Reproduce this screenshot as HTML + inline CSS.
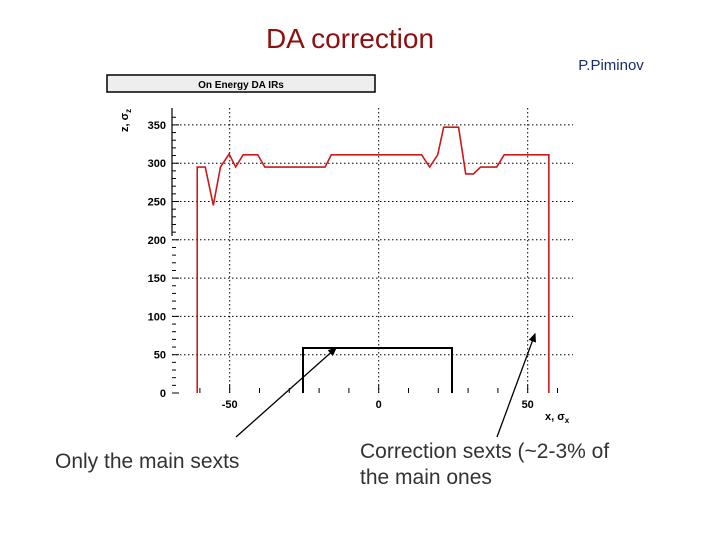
<!DOCTYPE html>
<html><head><meta charset="utf-8"><style>
body{margin:0;background:#fff;width:720px;height:540px;overflow:hidden;font-family:"Liberation Sans",sans-serif}
</style></head><body>
<svg width="720" height="540" viewBox="0 0 720 540">
<text x="350" y="48" font-size="28" fill="#8b1010" text-anchor="middle">DA correction</text>
<text x="611" y="70" font-size="15" fill="#1a2a6a" text-anchor="middle">P.Piminov</text>
<rect x="107" y="75" width="268" height="17" fill="#eee" stroke="#000" stroke-width="1.5"/>
<text x="241" y="88" font-size="10" font-weight="bold" text-anchor="middle">On Energy DA IRs</text>
<text transform="translate(128,132) rotate(-90)" font-size="11" font-weight="bold">z, σ<tspan font-size="8" dy="3">z</tspan></text>
<text x="545" y="420" font-size="11" font-weight="bold">x, σ<tspan font-size="8" dy="3">x</tspan></text>
<g id="grid"></g><g id="axes"></g><g id="series"></g>
<path d="M303,393V348H452V393" fill="none" stroke="#000" stroke-width="2"/>
<defs><marker id="ah" markerWidth="8" markerHeight="8" refX="6" refY="3" orient="auto"><path d="M0,0L7,3L0,6z" fill="#000"/></marker></defs>
<line x1="236" y1="437" x2="336" y2="348" stroke="#000" stroke-width="1.3" marker-end="url(#ah)"/>
<line x1="497" y1="437" x2="535" y2="334" stroke="#000" stroke-width="1.3" marker-end="url(#ah)"/>
<text x="55" y="468" font-size="21" fill="#333">Only the main sexts</text>
<text x="360" y="458" font-size="21" fill="#333">Correction sexts (~2-3% of</text>
<text x="360" y="484" font-size="21" fill="#333">the main ones</text>
</svg>
<script>
const xs=[-60.9,-60.9,-58.2,-55.5,-53.1,-50.2,-48,-45.5,-40.6,-38.2,-18,-15.9,14.4,17.1,19.8,21.8,26.8,29.2,31.8,34.2,39.6,42.1,57.1,57.1];
const ys=[0,295,295,245,295,312,295,311,311,295,295,311,311,295,311,347,347,286,286,295,295,311,311,0];
const yTicks=[0,50,100,150,200,250,300,350];
const xTicks=[-50,0,50];
const NS='http://www.w3.org/2000/svg';
const X=v=>378.7+v*2.98, Y=v=>393-v*0.766;
function mk(t,p,a){const e=document.createElementNS(NS,t);for(const k in a)e.setAttribute(k,a[k]);p.appendChild(e);return e;}
const g=document.getElementById('grid'),ax=document.getElementById('axes'),s=document.getElementById('series');
yTicks.forEach(v=>{
 if(v>0){const l=mk('line',g,{x1:172,x2:573,y1:Y(v),y2:Y(v),stroke:'#000','stroke-width':1,'stroke-dasharray':'1.5,2.5'});
 
 }
 const t=mk('text',ax,{x:166,y:Y(v)+4,'font-size':11,'font-weight':'bold','text-anchor':'end'});t.textContent=v;
 
 
});
for(let v=0;v<=360;v+=10){mk('line',ax,{x1:172,x2:v%50==0?179:176,y1:Y(v),y2:Y(v),stroke:'#000','stroke-width':1});}
mk('line',ax,{x1:172,x2:172,y1:108,y2:236,stroke:'#000','stroke-width':1.2});
xTicks.forEach(v=>{
 const l=mk('line',g,{x1:X(v),x2:X(v),y1:108,y2:393,stroke:'#000','stroke-width':1,'stroke-dasharray':'1.5,2.5'});
 
 
 const t=mk('text',ax,{x:X(v),y:408,'font-size':11,'font-weight':'bold','text-anchor':'middle'});t.textContent=v;
 
 
});
for(let v=-60;v<=60;v+=10){mk('line',ax,{x1:X(v),x2:X(v),y1:393,y2:v%50==0?385:388,stroke:'#000','stroke-width':1});}
const p=mk('polyline',s,{points:xs.map((x,i)=>X(x)+','+Y(ys[i])).join(' '),fill:'none',stroke:'#cc1a1a','stroke-width':1.6});


</script>
</body></html>
